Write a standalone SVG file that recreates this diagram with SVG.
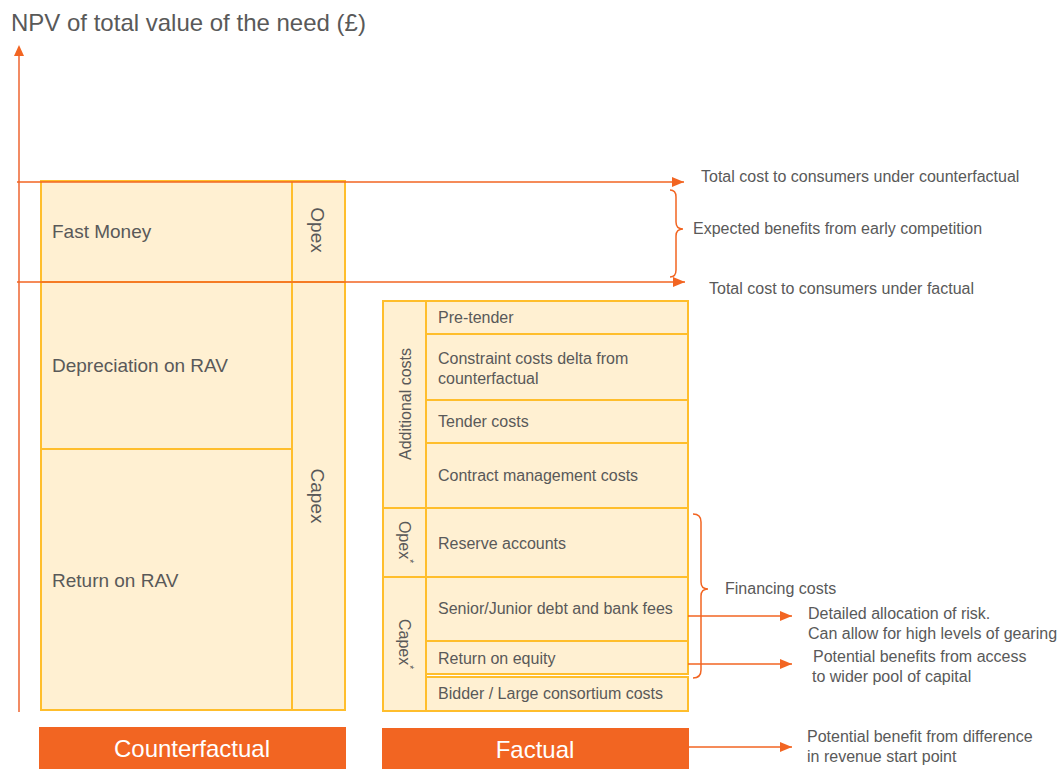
<svg xmlns="http://www.w3.org/2000/svg" width="1062" height="769" viewBox="0 0 1062 769">
<defs>
<marker id="ah" markerUnits="userSpaceOnUse" markerWidth="12" markerHeight="10" refX="12" refY="5" orient="auto">
<path d="M0,0 L12,5 L0,10 Z" fill="#F26522"/>
</marker>
<style>
.cell{fill:#FFF0D2;stroke:#FFBE2C;stroke-width:2}
.t{font-family:"Liberation Sans",Arial,sans-serif;fill:#595959}
.big{font-size:19px}
.sm{font-size:16px}
.ann{font-family:"Liberation Sans",Arial,sans-serif;fill:#595959;font-size:16px}
.rot{text-anchor:middle;dominant-baseline:central}
.conn{stroke:#F26522;stroke-width:1.5;fill:none}
.lbl{fill:#F26522}
.lbltxt{font-family:"Liberation Sans",Arial,sans-serif;fill:#FFFFFF;font-size:24px;text-anchor:middle}
</style>
</defs>
<rect width="1062" height="769" fill="#FFFFFF"/>
<text x="11" y="31" class="t" style="font-size:24px">NPV of total value of the need (£)</text>

<g id="counterfactual-stack">
<g id="fast-money"><rect class="cell" x="41" y="181" width="251" height="101"/><text class="t big" x="52" y="238">Fast Money</text></g>
<g id="depreciation-rav"><rect class="cell" x="41" y="282" width="251" height="167"/><text class="t big" x="52" y="372">Depreciation on RAV</text></g>
<g id="return-rav"><rect class="cell" x="41" y="449" width="251" height="261"/><text class="t big" x="52" y="587">Return on RAV</text></g>
<g id="opex"><rect class="cell" x="292" y="181" width="53" height="101"/><text class="t big rot" transform="translate(317,230) rotate(90)">Opex</text></g>
<g id="capex"><rect class="cell" x="292" y="282" width="53" height="428"/><text class="t big rot" transform="translate(317,496) rotate(90)">Capex</text></g>
</g>

<g id="factual-stack">
<g id="additional-costs"><rect class="cell" x="383" y="301" width="43" height="207"/><text class="t sm rot" transform="translate(405,404) rotate(-90)">Additional costs</text></g>
<g id="pre-tender"><rect class="cell" x="426" y="301" width="262" height="33"/><text class="t sm" x="438" y="323">Pre-tender</text></g>
<g id="constraint-costs"><rect class="cell" x="426" y="334" width="262" height="66"/><text class="t sm" x="438" y="364">Constraint costs delta from</text><text class="t sm" x="438" y="384">counterfactual</text></g>
<g id="tender-costs"><rect class="cell" x="426" y="400" width="262" height="43"/><text class="t sm" x="438" y="427">Tender costs</text></g>
<g id="contract-management"><rect class="cell" x="426" y="443" width="262" height="65"/><text class="t sm" x="438" y="481">Contract management costs</text></g>
<g id="opex-star"><rect class="cell" x="383" y="508" width="43" height="69"/><text class="t sm rot" transform="translate(404,542) rotate(90)">Opex<tspan font-size="10" baseline-shift="super">*</tspan></text></g>
<g id="reserve-accounts"><rect class="cell" x="426" y="508" width="262" height="69"/><text class="t sm" x="438" y="549">Reserve accounts</text></g>
<g id="capex-star"><rect class="cell" x="383" y="577" width="43" height="134"/><text class="t sm rot" transform="translate(404,644) rotate(90)">Capex<tspan font-size="10" baseline-shift="super">*</tspan></text></g>
<g id="senior-junior-debt"><rect class="cell" x="426" y="577" width="262" height="64"/><text class="t sm" x="438" y="614">Senior/Junior debt and bank fees</text></g>
<g id="return-equity"><rect class="cell" x="426" y="641" width="262" height="33"/><text class="t sm" x="438" y="664">Return on equity</text></g>
<g id="bidder-costs"><rect class="cell" x="426" y="677" width="262" height="34"/><text class="t sm" x="438" y="699">Bidder / Large consortium costs</text></g>
</g>

<g id="label-counterfactual"><rect class="lbl" x="39" y="727" width="307" height="42"/><text class="lbltxt" x="192" y="757">Counterfactual</text></g>
<g id="label-factual"><rect class="lbl" x="382" y="728" width="307" height="41"/><text class="lbltxt" x="535" y="758">Factual</text></g>

<g id="connectors">
<line x1="19" y1="712" x2="19" y2="56" stroke="#F28B64" stroke-width="2"/>
<path d="M19,45 L24,56 L14,56 Z" fill="#F26522"/>
<line class="conn" x1="17" y1="182" x2="684" y2="182" marker-end="url(#ah)"/>
<line class="conn" x1="17" y1="282" x2="685" y2="282" marker-end="url(#ah)"/>
<path class="conn" d="M670,190 Q676,190 676,197 L676,222 Q676,229 683,229 Q676,229 676,236 L676,270 Q676,277 670,277"/>
<path class="conn" d="M693,514 Q701,514 701,522 L701,582 Q701,589 708,589 Q701,589 701,596 L701,670 Q701,678 693,678"/>
<line class="conn" x1="688" y1="616" x2="792" y2="616" marker-end="url(#ah)"/>
<line class="conn" x1="688" y1="664" x2="792" y2="664" marker-end="url(#ah)"/>
<line class="conn" x1="689" y1="747" x2="792" y2="747" marker-end="url(#ah)"/>
</g>

<g id="annotations">
<text class="ann" x="701" y="182">Total cost to consumers under counterfactual</text>
<text class="ann" x="693" y="234">Expected benefits from early competition</text>
<text class="ann" x="709" y="294">Total cost to consumers under factual</text>
<text class="ann" x="725" y="594">Financing costs</text>
<text class="ann" x="808" y="619">Detailed allocation of risk.</text>
<text class="ann" x="808" y="639">Can allow for high levels of gearing</text>
<text class="ann" x="813" y="662">Potential benefits from access</text>
<text class="ann" x="812" y="682">to wider pool of capital</text>
<text class="ann" x="807" y="742">Potential benefit from difference</text>
<text class="ann" x="807" y="762">in revenue start point</text>
</g>
</svg>
